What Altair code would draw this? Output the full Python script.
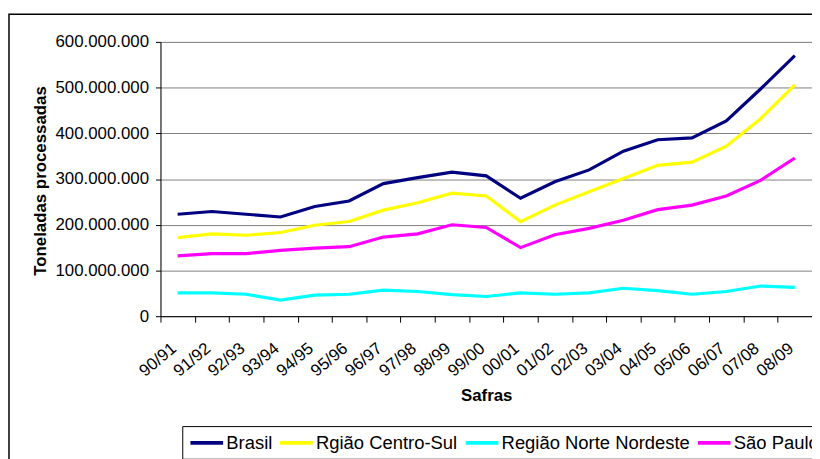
import altair as alt
import pandas as pd

safras = ["90/91", "91/92", "92/93", "93/94", "94/95", "95/96", "96/97", "97/98",
          "98/99", "99/00", "00/01", "01/02", "02/03", "03/04", "04/05", "05/06",
          "06/07", "07/08", "08/09"]

brasil = [223e6, 229e6, 223e6, 217e6, 240e6, 252e6, 290e6, 303e6, 315e6, 307e6,
          258e6, 294e6, 320e6, 361e6, 386e6, 390e6, 427e6, 497e6, 570e6]
centro_sul = [172e6, 180e6, 177e6, 183e6, 199e6, 207e6, 232e6, 248e6, 269e6, 263e6,
              207e6, 243e6, 272e6, 301e6, 330e6, 337e6, 372e6, 432e6, 506e6]
norte_nordeste = [51e6, 51e6, 48e6, 35e6, 46e6, 48e6, 57e6, 54e6, 47e6, 43e6,
                  51e6, 48e6, 51e6, 61e6, 56e6, 48e6, 54e6, 66e6, 63e6]
sao_paulo = [132e6, 137e6, 137e6, 144e6, 149e6, 152e6, 173e6, 180e6, 200e6, 194e6,
             150e6, 178e6, 192e6, 210e6, 233e6, 243e6, 263e6, 297e6, 346e6]

series_names = ["Brasil", "Rgião Centro-Sul", "Região Norte Nordeste", "São Paulo"]
series_colors = ["#000080", "#FFFF00", "#00FFFF", "#FF00FF"]
y_ticks = [0, 100e6, 200e6, 300e6, 400e6, 500e6, 600e6]

rows = []
for name, vals in zip(series_names, [brasil, centro_sul, norte_nordeste, sao_paulo]):
    for s, v in zip(safras, vals):
        rows.append({"Safra": s, "Serie": name, "Valor": v})
df = pd.DataFrame(rows)

lines = alt.Chart(df).mark_line(strokeWidth=3.2).encode(
    x=alt.X("Safra:N", sort=safras,
            scale=alt.Scale(paddingInner=0, paddingOuter=0),
            axis=alt.Axis(title="Safras", labelAngle=-40, labelAlign="right",
                          labelBaseline="middle", labelFontSize=17, labelPadding=24,
                          labelOffset=-4,
                          tickBand="extent", tickSize=6, grid=False,
                          domainColor="#000000", tickColor="#000000",
                          titleFontSize=17, titleFontWeight="bold",
                          titleY=85, titleBaseline="alphabetic")),
    y=alt.Y("Valor:Q", scale=alt.Scale(domain=[0, 600e6], nice=False),
            axis=alt.Axis(title="Toneladas processadas", values=y_ticks,
                          labelExpr="replace(format(datum.value, ','), regexp(',', 'g'), '.')",
                          labelFontSize=17, labelPadding=7, tickSize=5,
                          grid=True, gridColor="#808080", gridWidth=1,
                          domainColor="#000000", tickColor="#000000",
                          titleFontSize=17, titleFontWeight="bold",
                          titleX=-116, titleY=140, titleBaseline="alphabetic")),
    color=alt.Color("Serie:N", sort=series_names,
                    scale=alt.Scale(domain=series_names, range=series_colors),
                    legend=alt.Legend(title=None, orient="none", legendX=22, legendY=388,
                                      direction="horizontal", columns=4,
                                      symbolType="M-1,0H3", symbolSize=272,
                                      symbolStrokeWidth=4, labelFontSize=18.6,
                                      labelOffset=17.5, labelLimit=0,
                                      columnPadding=-0.5, padding=6,
                                      strokeColor="#000000", fillColor="#FFFFFF")),
)

frame = alt.Chart(pd.DataFrame({"a": [0]})).mark_rect(
    fill=None, stroke="#000000", strokeWidth=1.5
).encode(x=alt.value(-153), y=alt.value(-28), x2=alt.value(900), y2=alt.value(700))

chart = alt.layer(frame, lines).properties(
    width=658, height=277,
    autosize=alt.AutoSizeParams(type="none"),
    padding={"left": 154, "top": 32, "right": 0, "bottom": 142},
).configure_view(stroke=None).configure(
    font="Liberation Sans"
).configure_axis(labelFont="Liberation Sans", titleFont="Liberation Sans",
                 labelColor="#000000", titleColor="#000000").configure_legend(
    labelFont="Liberation Sans", labelColor="#000000")

chart.save("out.html", embed_options={"renderer": "svg", "actions": False})
